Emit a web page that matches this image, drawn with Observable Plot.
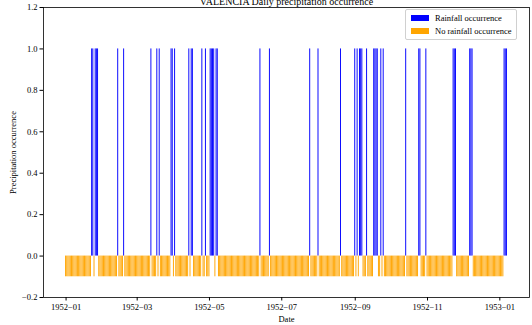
<!DOCTYPE html>
<html>
<head>
<meta charset="utf-8">
<script src="https://cdn.jsdelivr.net/npm/d3@7"></script>
<script src="https://cdn.jsdelivr.net/npm/@observablehq/plot@0.6"></script>
<style>
  html, body { margin: 0; padding: 0; background: #fff; }
  #wrap { position: relative; width: 532px; height: 325px; overflow: hidden; }
  #legend { position: absolute; left: 405px; top: 9px; width: 112px; height: 31px; box-sizing: border-box;
    border: 1px solid #d0d0d0; border-radius: 2px; background: rgba(255,255,255,0.85);
    font-family: "Liberation Serif", serif; font-size: 8.5px; color: #000; }
  .item { position: absolute; left: 5px; height: 10px; display: flex; align-items: center; white-space: nowrap; }
  .patch { width: 18px; height: 6px; margin-right: 6px; }
</style>
</head>
<body>
<div id="wrap"></div>
<script>
// ---- data ----
const title = "VALENCIA Daily precipitation occurrence";
const startDate = "1952-01-01";
const endDate = "1953-01-07";
const rainDates = [
  "1952-01-23", "1952-01-24", "1952-01-26", "1952-01-27", "1952-01-28",
  "1952-02-14", "1952-02-19",
  "1952-03-13", "1952-03-18", "1952-03-20", "1952-03-30", "1952-03-31",
  "1952-04-02", "1952-04-14", "1952-04-16", "1952-04-17", "1952-04-25", "1952-04-28",
  "1952-05-02", "1952-05-03", "1952-05-04", "1952-05-05", "1952-05-07", "1952-05-08",
  "1952-06-13", "1952-06-21",
  "1952-07-25",
  "1952-08-01", "1952-08-20",
  "1952-09-01", "1952-09-03", "1952-09-05", "1952-09-06", "1952-09-07", "1952-09-11",
  "1952-09-17", "1952-09-18", "1952-09-19", "1952-09-20", "1952-09-23", "1952-09-25",
  "1952-10-14", "1952-10-25", "1952-10-26", "1952-10-31",
  "1952-11-23", "1952-11-24", "1952-11-25",
  "1952-12-07", "1952-12-08", "1952-12-09",
  "1953-01-05", "1953-01-06", "1953-01-07"
];
const xTickLabels = ["1952-01", "1952-03", "1952-05", "1952-07", "1952-09", "1952-11", "1953-01"];
const yTicks = [-0.2, 0.0, 0.2, 0.4, 0.6, 0.8, 1.0, 1.2];
const rainValue = 1;
const dryValue = -0.1;
const seriesNames = ["Rainfall occurrence", "No rainfall occurrence"];
const colors = ["blue", "orange"];

// ---- build table ----
const DAY = 864e5;
const rainSet = new Set(rainDates);
const days = d3.utcDay.range(new Date(startDate), d3.utcDay.offset(new Date(endDate), 1));
const table = days.map(d => {
  const iso = d3.utcFormat("%Y-%m-%d")(d);
  const rain = rainSet.has(iso);
  return { date: d, x1: new Date(+d - 0.4 * DAY), x2: new Date(+d + 0.4 * DAY),
           value: rain ? rainValue : dryValue, rain };
});
const t0 = +days[0] - 0.4 * DAY, t1 = +days[days.length - 1] + 0.4 * DAY;
const pad = 0.05 * (t1 - t0);
const xDomain = [new Date(t0 - pad), new Date(t1 + pad)];
const xTicks = xTickLabels.map(s => new Date(s + "-01"));

const font = "Liberation Serif, serif";
const minus = s => s.replace(/-/g, "\u2212");

const chart = Plot.plot({
  width: 532, height: 325,
  marginLeft: 43, marginRight: 3, marginTop: 7, marginBottom: 28,
  style: { fontFamily: font, fontSize: "8.5px", background: "white", color: "black" },
  x: { type: "utc", domain: xDomain },
  y: { domain: [-0.2, 1.2] },
  marks: [
    Plot.rect(table.filter(d => d.rain), { x1: "x1", x2: "x2", y1: 0, y2: "value", fill: colors[0] }),
    Plot.rect(table.filter(d => !d.rain), { x1: "x1", x2: "x2", y1: 0, y2: "value", fill: colors[1] }),
    Plot.frame({ stroke: "black", strokeWidth: 0.8 }),
    Plot.axisY({ ticks: yTicks, tickFormat: d => minus(d3.format(".1f")(d)), tickSize: 3.5, tickPadding: 2.5,
      label: "Precipitation occurrence", labelAnchor: "center", labelArrow: "none", labelOffset: 34,
      fontSize: "8.5px" }),
    Plot.axisX({ ticks: xTicks, tickFormat: d => minus(d3.utcFormat("%Y-%m")(d)), tickSize: 3.5, tickPadding: 2.5,
      label: "Date", labelAnchor: "center", labelArrow: "none", labelOffset: 24, fontSize: "8.5px" }),
    Plot.text([title], { frameAnchor: "top", dy: -3, lineAnchor: "bottom", fontSize: 10, fill: "black" })
  ]
});

const wrap = document.getElementById("wrap");
wrap.appendChild(chart);

const legend = document.createElement("div");
legend.id = "legend";
seriesNames.forEach((name, i) => {
  const item = document.createElement("div");
  item.className = "item";
  item.style.top = (3 + i * 13) + "px";
  const p = document.createElement("span");
  p.className = "patch";
  p.style.background = colors[i];
  const t = document.createElement("span");
  t.textContent = name;
  item.appendChild(p); item.appendChild(t);
  legend.appendChild(item);
});
wrap.appendChild(legend);
</script>
</body>
</html>
